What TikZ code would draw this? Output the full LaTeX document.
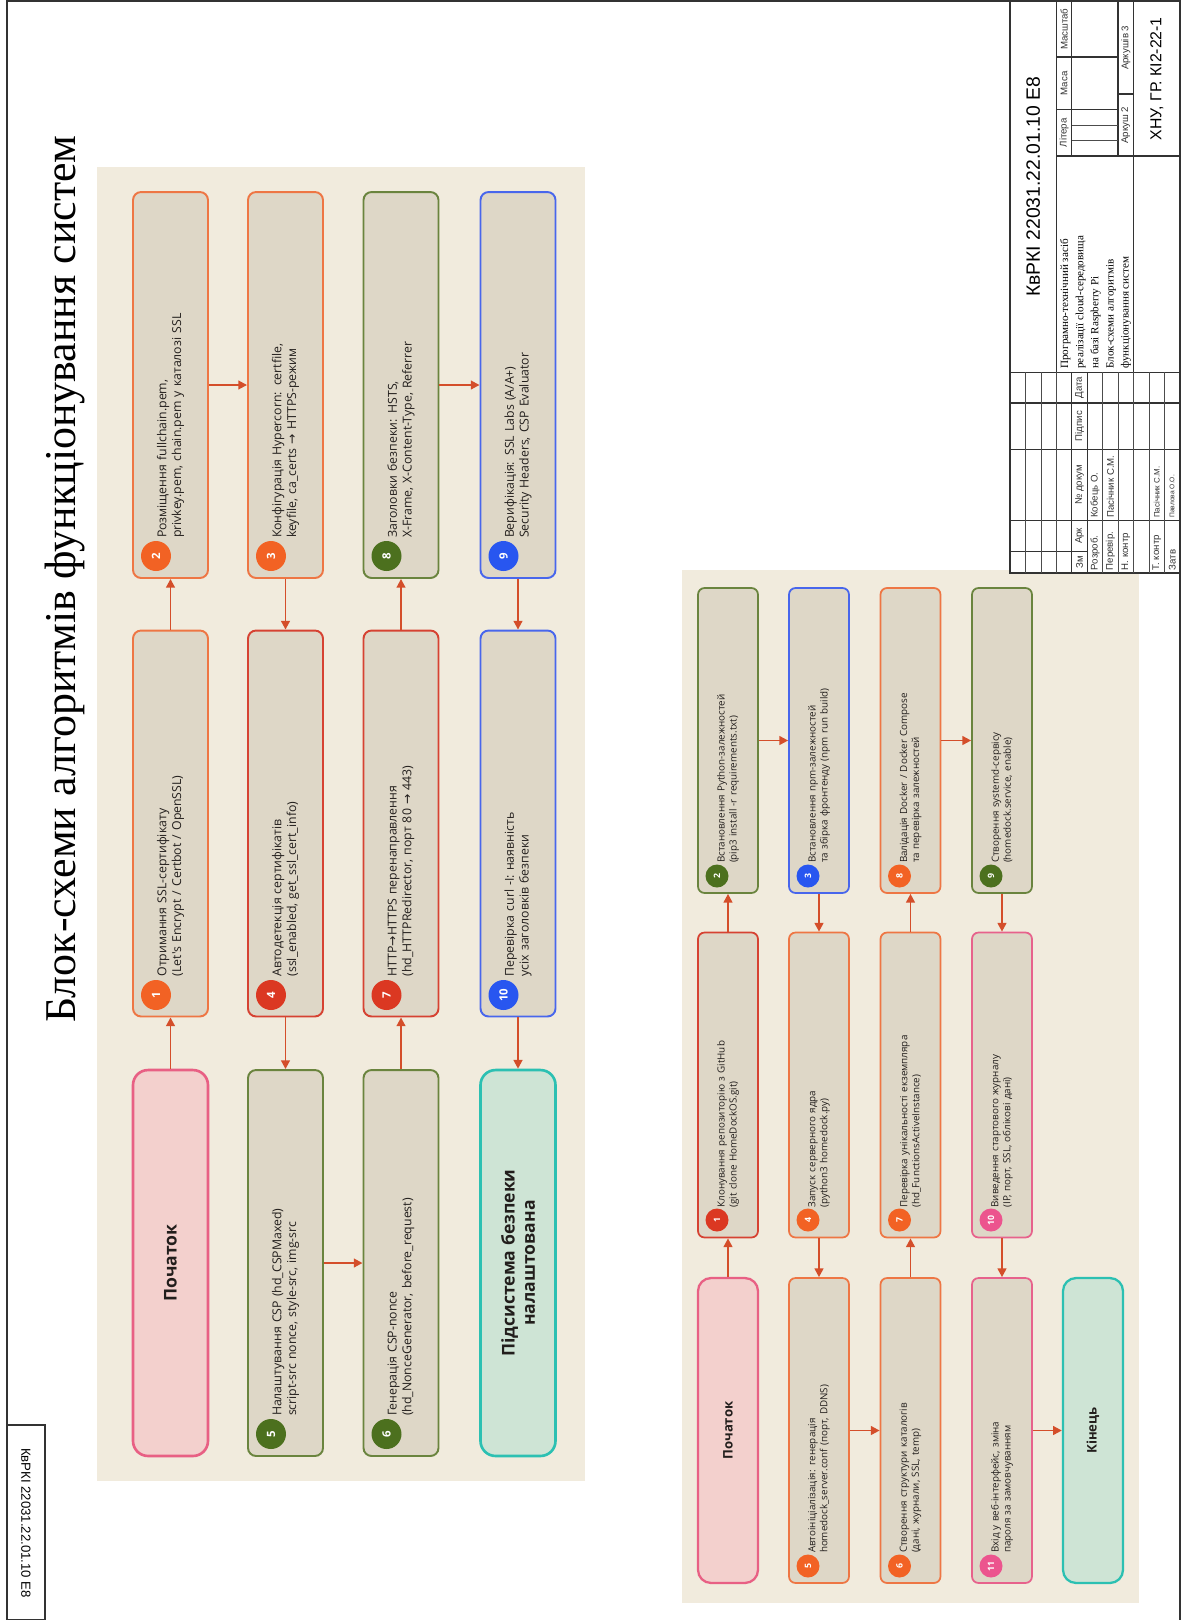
\documentclass[tikz,border=0pt]{standalone}
\usepackage{fontspec}
\setmainfont{Liberation Serif}
\newfontfamily\boxfont{Open Sans}
\newfontfamily\sheetfont{Liberation Sans}
\newfontfamily\symfont{DejaVu Sans}
\usetikzlibrary{arrows.meta,positioning}

\definecolor{panelbg}{RGB}{241,235,221}
\definecolor{boxbg}{RGB}{222,215,199}
\definecolor{startbg}{RGB}{243,208,205}
\definecolor{startln}{RGB}{232,96,132}
\definecolor{endbg}{RGB}{206,228,213}
\definecolor{endln}{RGB}{44,192,178}
\definecolor{lnorange}{RGB}{238,118,68}
\definecolor{lnred}{RGB}{214,66,50}
\definecolor{lngreen}{RGB}{106,132,62}
\definecolor{lnblue}{RGB}{72,102,236}
\definecolor{lnpink}{RGB}{231,98,140}
\definecolor{dotorange}{RGB}{242,98,36}
\definecolor{dotred}{RGB}{219,56,34}
\definecolor{dotgreen}{RGB}{76,112,30}
\definecolor{dotblue}{RGB}{40,86,240}
\definecolor{dotpink}{RGB}{236,84,142}
\definecolor{flowcol}{RGB}{212,78,42}
\definecolor{inkcol}{RGB}{34,30,28}

\tikzset{
  tproc/.style={draw, line width=1.1pt, fill=boxbg, rounded corners=0.16cm,
    text width=6.12cm, inner xsep=0.8cm, inner ysep=0pt, minimum height=1.5cm,
    align=left, text=inkcol, font=\boxfont\fontsize{7}{8.4}\selectfont},
  tterm/.style={draw, line width=1.5pt, rounded corners=0.3cm,
    minimum width=7.72cm, minimum height=1.5cm, align=center, text=inkcol,
    font=\boxfont\bfseries\fontsize{10}{11.5}\selectfont},
  tdot/.style={circle, inner sep=0pt, minimum size=0.6cm, text=white,
    font=\boxfont\bfseries\fontsize{6.5}{7}\selectfont},
  bproc/.style={draw, line width=1pt, fill=boxbg, rounded corners=0.13cm,
    text width=4.9cm, inner xsep=0.6cm, inner ysep=0pt, minimum height=1.2cm,
    align=left, text=inkcol, font=\boxfont\fontsize{5.6}{6.8}\selectfont},
  bterm/.style={draw, line width=1.3pt, rounded corners=0.26cm,
    minimum width=6.1cm, minimum height=1.2cm, align=center, text=inkcol,
    font=\boxfont\bfseries\fontsize{7.5}{9}\selectfont},
  bdot/.style={circle, inner sep=0pt, minimum size=0.46cm, text=white,
    font=\boxfont\bfseries\fontsize{5}{6}\selectfont},
  flow/.style={draw=flowcol, line width=1.1pt, -{Triangle[length=5pt,width=5pt]}},
  sheet/.style={draw=black!80, line width=0.8pt},
  tbline/.style={draw=black!70, line width=0.4pt},
  tblab/.style={font=\sheetfont\fontsize{5.5}{6}\selectfont, inner sep=0.5pt, text=black!80}
}

\begin{document}
\begin{tikzpicture}[x=0.02cm, y=0.02cm]
\useasboundingbox (0,0) rectangle (1181,-1620);
\fill[white] (0,0) rectangle (1181,-1620);

\begin{scope}[shift={(0,-1620)}, rotate=90, transform shape]
  % frame and corner stamp
  \draw[sheet] (0,-7) -- (1619,-7) -- (1619,-1180) -- (0,-1180);
  \draw[sheet] (0,-7) rectangle (195,-45);
  \node[rotate=180, font=\sheetfont\fontsize{7.5}{9}\selectfont] (stampcode) at (97,-26) {КвРКІ 22031.22.01.10 Е8};

  \node[font=\fontsize{25}{30}\selectfont] (title) at (1041,-65) {Блок-схеми алгоритмів функціонування систем};

  % security subsystem
  \fill[panelbg] (139,-97) rectangle (1453,-585);

  \node[tterm, fill=startbg, draw=startln] (t0) at (357,-170.5) {Початок};
  \node[tproc, draw=lnorange] (t1) at (796.5,-170.5) {Отримання SSL-сертифікату\\(Let's Encrypt / Certbot / OpenSSL)};
  \node[tproc, draw=lnorange] (t2) at (1235,-170.5) {Розміщення fullchain.pem,\\privkey.pem, chain.pem у каталозі SSL};
  \node[tproc, draw=lnorange] (t3) at (1235,-285.5) {Конфігурація Hypercorn: certfile,\\keyfile, ca\_certs {\symfont →} HTTPS-режим};
  \node[tproc, draw=lnred] (t4) at (796.5,-285.5) {Автодетекція сертифікатів\\(ssl\_enabled, get\_ssl\_cert\_info)};
  \node[tproc, draw=lngreen] (t5) at (357,-285.5) {Налаштування CSP (hd\_CSPMaxed)\\script-src nonce, style-src, img-src};
  \node[tproc, draw=lngreen] (t6) at (357,-401) {Генерація CSP-nonce\\(hd\_NonceGenerator, before\_request)};
  \node[tproc, draw=lnred] (t7) at (796.5,-401) {HTTP{\symfont →}HTTPS перенаправлення\\(hd\_HTTPRedirector, порт 80 {\symfont →} 443)};
  \node[tproc, draw=lngreen] (t8) at (1235,-401) {Заголовки безпеки: HSTS,\\X-Frame, X-Content-Type, Referrer};
  \node[tproc, draw=lnblue] (t9) at (1235,-518) {Верифікація: SSL Labs (A/A+)\\Security Headers, CSP Evaluator};
  \node[tproc, draw=lnblue] (t10) at (796.5,-518) {Перевірка curl -I: наявність\\усіх заголовків безпеки};
  \node[tterm, fill=endbg, draw=endln] (t11) at (357,-518) {Підсистема безпеки\\налаштована};

  \node[tdot, fill=dotorange] (t1n) at (625,-156) {1};
  \node[tdot, fill=dotorange] (t2n) at (1064,-156) {2};
  \node[tdot, fill=dotorange] (t3n) at (1064,-271) {3};
  \node[tdot, fill=dotred] (t4n) at (625,-271) {4};
  \node[tdot, fill=dotgreen] (t5n) at (186,-271) {5};
  \node[tdot, fill=dotgreen] (t6n) at (186,-386.5) {6};
  \node[tdot, fill=dotred] (t7n) at (625,-386.5) {7};
  \node[tdot, fill=dotgreen] (t8n) at (1064,-386.5) {8};
  \node[tdot, fill=dotblue] (t9n) at (1064,-503.5) {9};
  \node[tdot, fill=dotblue] (t10n) at (625,-503.5) {10};

  \draw[flow] (t0) -- (t1);
  \draw[flow] (t1) -- (t2);
  \draw[flow] (t2) -- (t3);
  \draw[flow] (t3) -- (t4);
  \draw[flow] (t4) -- (t5);
  \draw[flow] (t5) -- (t6);
  \draw[flow] (t6) -- (t7);
  \draw[flow] (t7) -- (t8);
  \draw[flow] (t8) -- (t9);
  \draw[flow] (t9) -- (t10);
  \draw[flow] (t10) -- (t11);

  % deployment
  \fill[panelbg] (17,-682) rectangle (1050,-1139);

  \node[bterm, fill=startbg, draw=startln] (b0) at (189.5,-728) {Початок};
  \node[bproc, draw=lnred] (b1) at (535,-728) {Клонування репозиторію з GitHub\\(git clone HomeDockOS.git)};
  \node[bproc, draw=lngreen] (b2) at (879.5,-728) {Встановлення Python-залежностей\\(pip3 install -r requirements.txt)};
  \node[bproc, draw=lnblue] (b3) at (879.5,-819) {Встановлення npm-залежностей\\та збірка фронтенду (npm run build)};
  \node[bproc, draw=lnorange] (b4) at (535,-819) {Запуск серверного ядра\\(python3 homedock.py)};
  \node[bproc, draw=lnorange] (b5) at (189.5,-819) {Автоініціалізація: генерація\\homedock\_server.conf (порт, DDNS)};
  \node[bproc, draw=lnorange] (b6) at (189.5,-910.5) {Створення структури каталогів\\(дані, журнали, SSL, temp)};
  \node[bproc, draw=lnorange] (b7) at (535,-910.5) {Перевірка унікальності екземпляра\\(hd\_FunctionsActiveInstance)};
  \node[bproc, draw=lnorange] (b8) at (879.5,-910.5) {Валідація Docker / Docker Compose\\та перевірка залежностей};
  \node[bproc, draw=lngreen] (b9) at (879.5,-1002) {Створення systemd-сервісу\\(homedock.service, enable)};
  \node[bproc, draw=lnpink] (b10) at (535,-1002) {Виведення стартового журналу\\(IP, порт, SSL, облікові дані)};
  \node[bproc, draw=lnpink] (b11) at (189.5,-1002) {Вхід у веб-інтерфейс, зміна\\пароля за замовчуванням};
  \node[bterm, fill=endbg, draw=endln] (b12) at (189.5,-1093) {Кінець};

  \node[bdot, fill=dotred] (b1n) at (400,-717) {1};
  \node[bdot, fill=dotgreen] (b2n) at (744,-717) {2};
  \node[bdot, fill=dotblue] (b3n) at (744,-808) {3};
  \node[bdot, fill=dotorange] (b4n) at (400,-808) {4};
  \node[bdot, fill=dotorange] (b5n) at (54,-808) {5};
  \node[bdot, fill=dotorange] (b6n) at (54,-899.5) {6};
  \node[bdot, fill=dotorange] (b7n) at (400,-899.5) {7};
  \node[bdot, fill=dotorange] (b8n) at (744,-899.5) {8};
  \node[bdot, fill=dotgreen] (b9n) at (744,-991) {9};
  \node[bdot, fill=dotpink] (b10n) at (400,-991) {10};
  \node[bdot, fill=dotpink] (b11n) at (54,-991) {11};

  \draw[flow] (b0) -- (b1);
  \draw[flow] (b1) -- (b2);
  \draw[flow] (b2) -- (b3);
  \draw[flow] (b3) -- (b4);
  \draw[flow] (b4) -- (b5);
  \draw[flow] (b5) -- (b6);
  \draw[flow] (b6) -- (b7);
  \draw[flow] (b7) -- (b8);
  \draw[flow] (b8) -- (b9);
  \draw[flow] (b9) -- (b10);
  \draw[flow] (b10) -- (b11);
  \draw[flow] (b11) -- (b12);

  % title block, in mm
  \begin{scope}[shift={(1047,-1010)}, x=0.0618cm, y=-0.0618cm]
    \fill[white] (0,0) rectangle (185,55);
    \draw[sheet] (0,0) rectangle (185,55);
    \draw[sheet] (65,0) -- (65,55);
    \draw[sheet] (65,15) -- (185,15);
    \draw[sheet] (65,40) -- (185,40);
    \draw[sheet] (135,15) -- (135,55);
    \draw[sheet] (135,20) -- (185,20);
    \draw[sheet] (135,35) -- (185,35);
    \draw[sheet] (150,15) -- (150,35);
    \draw[sheet] (167,15) -- (167,35);
    \draw[tbline] (140,20) -- (140,35) (145,20) -- (145,35);
    \draw[sheet] (155,35) -- (155,40);
    \draw[sheet] (7,0) -- (7,25);
    \draw[sheet] (17,0) -- (17,55);
    \draw[sheet] (40,0) -- (40,55);
    \draw[sheet] (55,0) -- (55,55);
    \draw[tbline] (0,5) -- (65,5) (0,10) -- (65,10) (0,15) -- (65,15);
    \draw[sheet] (0,20) -- (65,20) (0,25) -- (65,25);
    \draw[tbline] (0,30) -- (65,30) (0,35) -- (65,35) (0,40) -- (65,40)
                  (0,45) -- (65,45) (0,50) -- (65,50);

    \node[tblab] (hZm) at (3.5,22.5) {Зм};
    \node[tblab] (hArk) at (12,22.5) {Арк};
    \node[tblab] (hDoc) at (28.5,22.5) {№ докум};
    \node[tblab] (hSign) at (47.5,22.5) {Підпис};
    \node[tblab] (hDate) at (60,22.5) {Дата};
    \node[tblab, anchor=west] (rDev) at (0.5,27.5) {Розроб.};
    \node[tblab, anchor=west] (nDev) at (17.5,27.5) {Кобець О.};
    \node[tblab, anchor=west] (rChk) at (0.5,32.5) {Перевір.};
    \node[tblab, anchor=west] (nChk) at (17.5,32.5) {Пасічник С.М.};
    \node[tblab, anchor=west] (rNk) at (0.5,37.5) {Н. контр};
    \node[tblab, anchor=west] (rTk) at (0.5,47.5) {Т. контр};
    \node[tblab, anchor=west, font=\sheetfont\fontsize{4.5}{5}\selectfont] (nTk) at (17.5,47.5) {Пасічник С.М.};
    \node[tblab, anchor=west] (rApp) at (0.5,52.5) {Затв};
    \node[tblab, anchor=west, font=\sheetfont\fontsize{3.8}{4}\selectfont] (nApp) at (17.5,52.5) {Павлова О.О.};

    \node[font=\sheetfont\fontsize{11}{13}\selectfont] (tbCode) at (125,7.5) {КвРКІ 22031.22.01.10 Е8};
    \node[anchor=north west, align=left, inner sep=1pt, font=\fontsize{6.3}{8.6}\selectfont] (tbName) at (65.5,15.6)
      {Програмно-технічний засіб\\реалізації cloud-середовища\\на базі Raspberry Pi\\Блок-схеми алгоритмів\\функціонування систем};
    \node[tblab] (tbLit) at (142.5,17.5) {Літера};
    \node[tblab] (tbMass) at (158.5,17.5) {Маса};
    \node[tblab] (tbScale) at (176,17.5) {Масштаб};
    \node[tblab] (tbSheet) at (145,37.5) {Аркуш 2};
    \node[tblab] (tbSheets) at (170,37.5) {Аркушів 3};
    \node[font=\sheetfont\fontsize{9}{11}\selectfont] (tbOrg) at (160,47.5) {ХНУ, ГР. КІ2-22-1};
  \end{scope}
\end{scope}
\end{tikzpicture}
\end{document}
